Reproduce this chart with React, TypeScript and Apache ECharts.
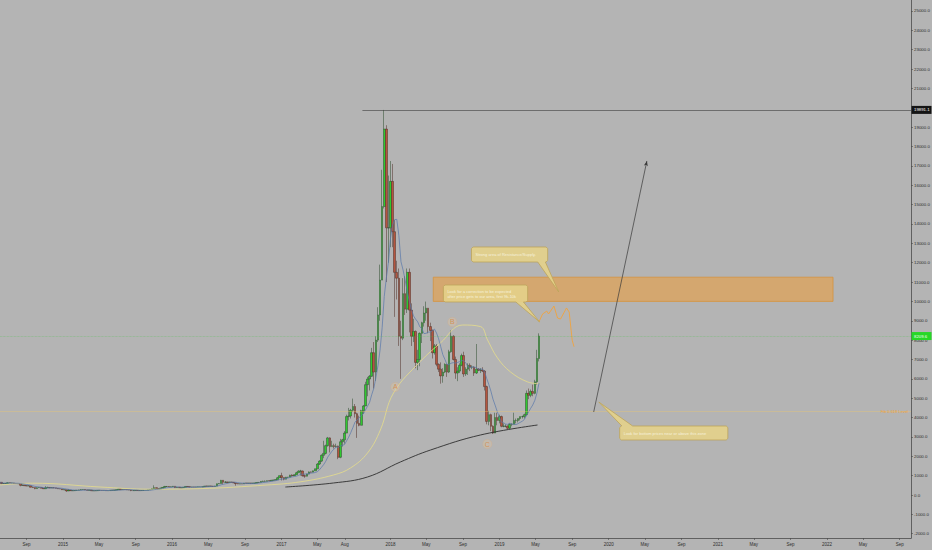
import React, { useEffect, useRef } from "react";
import * as echarts from "echarts";

const DAY = 86400000;
const WEEK = 7 * DAY;
const t = (s: string) => Date.parse(s + "T00:00:00Z");

const FIRST_WEEK = "2014-06-02";
const AXIS_START = "2014-06-04";
const AXIS_END = "2022-10-09";
const PRICE_MIN = -2221;
const PRICE_MAX = 25568;

// weekly candles: [open, close, low, high]
const candles2014 = [
  [630, 655, 620, 680], [655, 595, 560, 665], [595, 595, 585, 620], [595, 600, 565, 610],
  [600, 635, 600, 660], [635, 620, 615, 640], [620, 620, 610, 630], [620, 595, 590, 625],
  [595, 590, 575, 600], [590, 585, 580, 600], [585, 500, 450, 590], [500, 510, 470, 530],
  [510, 480, 475, 515], [480, 475, 460, 490], [475, 475, 465, 490], [475, 400, 395, 480],
  [400, 385, 375, 440], [385, 330, 300, 390], [330, 380, 320, 400], [380, 390, 370, 410],
  [390, 355, 345, 390], [355, 325, 320, 360], [325, 370, 320, 460], [370, 390, 360, 430],
  [390, 375, 345, 395], [375, 375, 365, 385], [375, 370, 360, 385], [370, 345, 340, 375],
  [345, 320, 310, 350], [320, 315, 310, 335], [315, 270, 265, 320],
];
const candles2015 = [
  [270, 270, 260, 300], [270, 210, 165, 275], [210, 255, 205, 310], [255, 225, 215, 260],
  [225, 225, 210, 245], [225, 235, 215, 245], [235, 245, 235, 250], [245, 260, 235, 270],
  [260, 275, 255, 300], [275, 285, 270, 295], [285, 260, 255, 290], [260, 250, 235, 265],
  [250, 255, 240, 260], [255, 220, 215, 260], [220, 225, 215, 230], [225, 225, 215, 235],
  [225, 240, 220, 245], [240, 240, 235, 245], [240, 235, 230, 245], [235, 240, 230, 245],
  [240, 225, 225, 240], [225, 230, 220, 235], [230, 245, 225, 245], [245, 245, 240, 255],
  [245, 255, 240, 260], [255, 270, 250, 275], [270, 310, 265, 315], [310, 275, 270, 320],
  [275, 290, 270, 300], [290, 280, 275, 295], [280, 265, 260, 285], [265, 260, 255, 270],
  [260, 230, 200, 265], [230, 230, 220, 235], [230, 240, 225, 245], [240, 230, 225, 245],
  [230, 230, 225, 235], [230, 235, 225, 240], [235, 240, 235, 245], [240, 245, 240, 250],
  [245, 265, 245, 270], [265, 285, 265, 290], [285, 325, 280, 335], [325, 380, 320, 500],
  [380, 330, 310, 390], [330, 325, 315, 340], [325, 360, 315, 370], [360, 390, 355, 400],
  [390, 435, 385, 470], [435, 440, 430, 465], [440, 420, 415, 455], [420, 430, 415, 440],
];
const candles2016 = [
  [430, 450, 420, 465], [450, 380, 360, 455], [380, 400, 375, 425], [400, 370, 365, 405],
  [370, 375, 365, 385], [375, 400, 370, 405], [400, 440, 395, 445], [440, 430, 400, 445],
  [430, 410, 400, 440], [410, 415, 400, 420], [415, 410, 405, 420], [410, 415, 405, 420],
  [415, 420, 410, 425], [420, 420, 415, 425], [420, 430, 420, 435], [430, 460, 430, 465],
  [460, 450, 440, 470], [450, 460, 440, 465], [460, 455, 450, 465], [455, 440, 435, 460],
  [440, 460, 435, 475], [460, 580, 455, 590], [580, 590, 565, 610], [590, 760, 590, 780],
  [760, 660, 560, 770], [660, 670, 620, 710], [670, 650, 610, 680], [650, 665, 645, 680],
  [665, 655, 650, 675], [655, 625, 620, 665], [625, 590, 480, 630], [590, 570, 565, 600],
  [570, 580, 565, 585], [580, 575, 570, 585], [575, 610, 570, 615], [610, 605, 600, 630],
  [605, 610, 600, 615], [610, 605, 590, 610], [605, 610, 600, 615], [610, 615, 605, 620],
  [615, 640, 610, 645], [640, 650, 630, 655], [650, 700, 645, 720], [700, 705, 690, 740],
  [705, 705, 690, 750], [705, 740, 700, 745], [740, 730, 720, 745], [730, 765, 725, 770],
  [765, 770, 755, 775], [770, 790, 765, 800], [790, 890, 790, 935], [890, 1000, 890, 1000],
];
const candles2017 = [
  [1000, 900, 750, 1150], [900, 820, 760, 910], [820, 920, 810, 935], [920, 920, 880, 930],
  [920, 1020, 915, 1045], [1020, 1000, 940, 1070], [1000, 1050, 990, 1060], [1050, 1150, 1050, 1200],
  [1150, 1230, 1150, 1280], [1230, 1240, 1000, 1300], [1240, 1000, 950, 1260], [1000, 970, 890, 1060],
  [970, 1080, 960, 1100], [1080, 1190, 1070, 1215], [1190, 1180, 1160, 1210], [1180, 1250, 1170, 1260],
  [1250, 1350, 1240, 1360], [1350, 1600, 1350, 1650], [1600, 1750, 1550, 1800], [1750, 2050, 1700, 2100],
  [2050, 2150, 1900, 2800], [2150, 2550, 2100, 2600], [2550, 2950, 2500, 3000], [2950, 2500, 2200, 2980],
  [2500, 2550, 2500, 2800], [2550, 2500, 2400, 2650], [2500, 2520, 2450, 2650], [2520, 1950, 1850, 2550],
  [1950, 2750, 1900, 2900], [2750, 2850, 2500, 2900], [2850, 3200, 2650, 3300], [3200, 4050, 3200, 4150],
  [4050, 4080, 3850, 4500], [4080, 4380, 3950, 4450], [4380, 4570, 4300, 4980], [4570, 4200, 4000, 4700],
  [4200, 3700, 2950, 4250], [3700, 3600, 3550, 4100], [3600, 4350, 3600, 4400], [4350, 4600, 4200, 4650],
  [4600, 5700, 4600, 5850], [5700, 5990, 5100, 6100], [5990, 6130, 5400, 6200], [6130, 7350, 6100, 7600],
  [7350, 6350, 5500, 7900], [6350, 8000, 5900, 8200], [8000, 9300, 7900, 9700], [9300, 11100, 9000, 11900],
  [11100, 14900, 11100, 16800], [14900, 18900, 14800, 19891], [18900, 13800, 11000, 19100], [13800, 13800, 12000, 16500],
];
const candles2018 = [
  [13800, 16200, 12800, 17250], [16200, 13600, 12800, 17100], [13600, 11500, 9200, 14200], [11500, 11200, 10100, 12100],
  [11200, 8200, 7700, 11700], [8200, 8100, 6000, 9000], [8100, 10400, 8000, 11200], [10400, 9600, 9300, 11300],
  [9600, 11500, 9400, 11700], [11500, 9550, 8400, 11700], [9550, 8200, 7700, 9900], [8200, 8450, 7900, 9100],
  [8450, 6850, 6550, 8500], [6850, 7000, 6450, 7500], [7000, 8350, 6650, 8400], [8350, 8900, 7850, 8950],
  [8900, 9400, 8700, 9750], [9400, 9650, 9000, 9990], [9650, 8700, 8350, 9650], [8700, 8500, 7950, 8900],
  [8500, 7350, 7050, 8550], [7350, 7700, 7250, 7800], [7700, 6750, 6650, 7800], [6750, 6500, 6350, 6800],
  [6500, 6150, 5750, 6850], [6150, 6350, 5800, 6550], [6350, 6750, 6300, 6800], [6750, 6350, 6100, 6750],
  [6350, 7400, 6300, 7500], [7400, 8200, 7350, 8500], [8200, 7000, 6950, 8250], [7000, 6300, 6000, 7150],
  [6300, 6400, 5880, 6600], [6400, 6700, 6300, 6800], [6700, 7200, 6650, 7300], [7200, 6250, 6100, 7400],
  [6250, 6500, 6150, 6600], [6500, 6700, 6200, 6800], [6700, 6600, 6400, 6800], [6600, 6600, 6500, 6700],
  [6600, 6300, 6150, 6650], [6300, 6500, 6250, 7800], [6500, 6450, 6400, 6550], [6450, 6450, 6300, 6550],
  [6450, 6400, 6350, 6600], [6400, 5600, 5400, 6450], [5600, 3800, 3650, 5650], [3800, 4150, 3600, 4350],
  [4150, 3550, 3300, 4200], [3550, 3200, 3150, 3600], [3200, 4000, 3200, 4250], [4000, 3850, 3600, 4250],
  [3850, 4050, 3700, 4150],
];
const candles2019 = [
  [4050, 3550, 3500, 4100], [3550, 3550, 3500, 3700], [3550, 3550, 3500, 3650], [3550, 3450, 3400, 3600],
  [3450, 3650, 3400, 3700], [3650, 3650, 3550, 3700], [3650, 3850, 3650, 4250], [3850, 3850, 3700, 3950],
  [3850, 3950, 3750, 3950], [3950, 4050, 3850, 4050], [4050, 4050, 3950, 4100], [4050, 4150, 3950, 4200],
  [4150, 5250, 4100, 5400], [5250, 5150, 4950, 5500], [5150, 5350, 5050, 5450], [5350, 5250, 5100, 5700],
  [5250, 5850, 5200, 5950], [5850, 7050, 5700, 7500], [7050, 8210, 6900, 8350],
];

// 50-period average line: [date, price]
const yellowLine: [string, number][] = [
  ["2014-06-04", 517], ["2014-09-22", 610], ["2015-05-05", 413], ["2015-10-19", 300],
  ["2016-04-04", 330], ["2016-11-14", 517], ["2017-03-05", 680], ["2017-06-24", 1033],
  ["2017-08-20", 1395], ["2017-10-16", 2169], ["2017-11-28", 3357], ["2018-01-11", 5269],
  ["2018-04-11", 6900], ["2018-06-17", 7850], ["2018-08-30", 8780], ["2018-10-29", 8700],
  ["2018-11-22", 8000], ["2018-12-25", 7080], ["2019-02-07", 6350], ["2019-04-05", 5840],
  ["2019-05-13", 5750],
];
// 200-period average line
const blackLine: [string, number][] = [
  ["2017-01-14", 413], ["2017-06-24", 620], ["2017-10-16", 930], ["2018-02-03", 1705],
  ["2018-05-15", 2324], ["2018-10-29", 3100], ["2019-05-08", 3616],
];
// hand drawn projection
const projection: [string, number][] = [
  ["2019-05-13", 8950], ["2019-05-25", 9350], ["2019-06-08", 9500], ["2019-06-14", 9350],
  ["2019-07-02", 9760], ["2019-07-14", 9140], ["2019-07-24", 9090], ["2019-08-13", 9660],
  ["2019-08-22", 9450], ["2019-09-01", 8000], ["2019-09-07", 7660],
];
const arrowFrom: [string, number] = ["2019-11-12", 4287];
const arrowTo: [string, number] = ["2020-05-08", 17252];
const athLevel = 19891.1;
const athStart = "2017-09-29";
const lastPrice = 8209.6;
const supportLevel = 4330;
const zoneDates = ["2018-05-24", "2022-01-21"];
const zonePrices = [11250, 10000];

const waveLetters = ["A", "B", "C"];
const wavePoints: [string, number][] = [["2018-01-17", 5579], ["2018-07-27", 8936], ["2018-11-21", 2634]];

// callouts: box left date, top price, right date, bottom price, tip date, tip price
const callouts: [string, number, string, number, string, number][] = [
  ["2018-09-29", 12810, "2019-06-11", 12035, "2019-07-18", 10486],
  ["2018-06-27", 10847, "2019-04-05", 9969, "2019-05-15", 8936],
  ["2020-02-07", 3564, "2021-02-03", 2841, "2019-11-29", 4804],
];
const calloutTexts = [
  ["Strong area of Resistance/Supply."],
  ["Look for a correction to be expected", "after price gets to our area, first 9k-10k"],
  ["Look for bottom prices near or above this zone"],
];
const calloutTails = [[0.87, 0.97], [0.86, 0.95], [0.02, 0.12]];

const xTickDates = [
  "2014-09-01", "2015-01-01", "2015-05-01", "2015-09-01", "2016-01-01", "2016-05-01", "2016-09-01",
  "2017-01-01", "2017-05-01", "2017-08-01", "2018-01-01", "2018-05-01", "2018-09-01", "2019-01-01",
  "2019-05-01", "2019-09-01", "2020-01-01", "2020-05-01", "2020-09-01", "2021-01-01", "2021-05-01",
  "2021-09-01", "2022-01-01", "2022-05-01", "2022-09-01",
];
const xTickLabels = [
  "Sep", "2015", "May", "Sep", "2016", "May", "Sep", "2017", "May", "Aug", "2018", "May", "Sep", "2019",
  "May", "Sep", "2020", "May", "Sep", "2021", "May", "Sep", "2022", "May", "Sep",
];
const yTickValues = [
  -2000, -1000, 0, 1000, 2000, 3000, 4000, 5000, 6000, 7000, 8000, 9000, 10000, 11000, 12000,
  13000, 14000, 15000, 16000, 17000, 18000, 19000, 21000, 22000, 23000, 24000, 25000,
];

const FONT = "Liberation Sans";

export default function App() {
  const ref = useRef<HTMLDivElement>(null);
  useEffect(() => {
    if (!ref.current) return;
    const chart = echarts.init(ref.current, undefined, { renderer: "svg" });
    const candles = [...candles2014, ...candles2015, ...candles2016, ...candles2017, ...candles2018, ...candles2019];
    const t0 = t(FIRST_WEEK);
    const rows = candles.map((c, i) => [t0 + i * WEEK, c[0], c[1], c[2], c[3]]);
    const closes = candles.map((c) => c[1]);
    const ma8 = closes.map((_, i) => {
      const from = Math.max(0, i - 7);
      const win = closes.slice(from, i + 1);
      return [t0 + i * WEEK, win.reduce((a, b) => a + b, 0) / win.length];
    });
    const xMax = t(AXIS_END);
    const tagValues = [athLevel, lastPrice, supportLevel];
    const tagStyles = [
      { bg: "#141414", fg: "#ffffff", text: athLevel.toFixed(1) },
      { bg: "#27d827", fg: "#effff0", text: lastPrice.toFixed(1) },
      { bg: "", fg: "#eea23a", text: "Fib 0.618 Level" },
    ];
    const xTickNums = xTickDates.map(t);

    chart.setOption({
      animation: false,
      backgroundColor: "#b4b4b4",
      textStyle: { fontFamily: FONT },
      grid: { left: 0, right: 21, top: 0, bottom: 12, outerBoundsMode: "none" },
      xAxis: {
        type: "value",
        min: t(AXIS_START),
        max: xMax,
        scale: true,
        splitLine: { show: false },
        axisLine: { show: true, onZero: false, lineStyle: { color: "#4a4a4a", width: 0.8 } },
        axisTick: { show: true, length: 2, lineStyle: { color: "#4a4a4a", width: 0.6 }, customValues: xTickNums },
        axisLabel: {
          show: true,
          customValues: xTickNums,
          formatter: (v: number) => {
            let best = 0;
            let bd = Infinity;
            xTickNums.forEach((n, k) => {
              const d = Math.abs(n - v);
              if (d < bd) { bd = d; best = k; }
            });
            return xTickLabels[best];
          },
          fontSize: 4.5,
          color: "#2e2e2e",
          margin: 4,
          fontFamily: FONT,
        },
      },
      yAxis: {
        type: "value",
        position: "right",
        min: PRICE_MIN,
        max: PRICE_MAX,
        splitLine: { show: false },
        axisLine: { show: true, onZero: false, lineStyle: { color: "#4a4a4a", width: 0.8 } },
        axisTick: { show: true, length: 2, lineStyle: { color: "#4a4a4a", width: 0.6 }, customValues: yTickValues },
        axisLabel: {
          show: true,
          customValues: yTickValues,
          formatter: (v: number) => v.toFixed(1),
          fontSize: 4.4,
          color: "#2e2e2e",
          margin: 3,
          fontFamily: FONT,
        },
      },
      series: [
        {
          name: "zone",
          type: "line",
          data: [],
          silent: true,
          markArea: {
            silent: true,
            itemStyle: { color: "rgba(232,160,70,0.62)", borderColor: "rgba(215,145,55,0.9)", borderWidth: 0.8 },
            data: [[{ coord: [t(zoneDates[0]), zonePrices[0]] }, { coord: [t(zoneDates[1]), zonePrices[1]] }]],
          },
          markLine: {
            silent: true,
            symbol: ["none", "none"],
            label: { show: false },
            data: [
              { yAxis: lastPrice, lineStyle: { color: "rgba(60,200,60,0.45)", width: 0.7, type: "dotted" } },
              { yAxis: supportLevel, lineStyle: { color: "rgba(236,200,110,0.55)", width: 0.7, type: "solid" } },
              [
                { coord: [t(athStart), athLevel], lineStyle: { color: "#3c3c3c", width: 0.6, type: "solid" } },
                { coord: [xMax, athLevel] },
              ],
            ],
          },
        },
        {
          name: "MA200",
          type: "line",
          data: blackLine.map(([d, v]) => [t(d), v]),
          smooth: 0.4,
          symbol: "none",
          lineStyle: { color: "#2e2e2e", width: 0.9 },
          silent: true,
        },
        {
          name: "MA50",
          type: "line",
          data: yellowLine.map(([d, v]) => [t(d), v]),
          smooth: 0.4,
          symbol: "none",
          lineStyle: { color: "#e6dd8a", width: 0.8 },
          silent: true,
        },
        {
          name: "BTCUSD",
          type: "candlestick",
          data: rows,
          encode: { x: 0, y: [1, 2, 3, 4] },
          barWidth: 2.1,
          silent: true,
          itemStyle: {
            color: "#2fc92f",
            color0: "#b5553e",
            borderColor: "#2a4a2a",
            borderColor0: "#4e2c25",
            borderWidth: 0.5,
          },
        },
        {
          name: "MA8",
          type: "line",
          data: ma8,
          symbol: "none",
          lineStyle: { color: "#5877aa", width: 0.7 },
          silent: true,
        },
        {
          name: "projection",
          type: "line",
          data: projection.map(([d, v]) => [t(d), v]),
          symbol: "none",
          lineStyle: { color: "#f0a33d", width: 0.9 },
          silent: true,
        },
        {
          name: "arrow",
          type: "line",
          data: [],
          silent: true,
          markLine: {
            silent: true,
            symbol: ["none", "arrow"],
            symbolSize: [3, 5],
            label: { show: false },
            lineStyle: { color: "#3a3a3a", width: 0.7, type: "solid" },
            data: [[{ coord: [t(arrowFrom[0]), arrowFrom[1]] }, { coord: [t(arrowTo[0]), arrowTo[1]] }]],
          },
        },
        {
          name: "waves",
          type: "scatter",
          data: wavePoints.map(([d, v]) => [t(d), v]),
          symbol: "circle",
          symbolSize: 9,
          silent: true,
          itemStyle: { color: "rgba(235,205,160,0.35)", borderColor: "rgba(230,170,110,0.55)", borderWidth: 0.5 },
          label: {
            show: true,
            position: "inside",
            formatter: (p: any) => waveLetters[p.dataIndex],
            color: "#d98743",
            fontSize: 7,
            fontFamily: FONT,
          },
          z: 4,
        },
        {
          name: "callouts",
          type: "custom",
          clip: false,
          silent: true,
          z: 5,
          data: callouts.map((c) => [t(c[0]), c[1], t(c[2]), c[3], t(c[4]), c[5]]),
          renderItem: (params: any, api: any) => {
            const i = params.dataIndex;
            const tl = api.coord([api.value(0), api.value(1)]);
            const br = api.coord([api.value(2), api.value(3)]);
            const tip = api.coord([api.value(4), api.value(5)]);
            const x0 = tl[0], y0 = tl[1], x1 = br[0], y1 = br[1];
            const w = x1 - x0;
            const c = 1.6;
            const [f0, f1] = calloutTails[i];
            const below = tip[1] > y1;
            const pts: number[][] = [];
            pts.push([x0 + c, y0]);
            if (!below) pts.push([x0 + w * f0, y0], tip, [x0 + w * f1, y0]);
            pts.push([x1 - c, y0], [x1, y0 + c], [x1, y1 - c], [x1 - c, y1]);
            if (below) pts.push([x0 + w * f1, y1], tip, [x0 + w * f0, y1]);
            pts.push([x0 + c, y1], [x0, y1 - c], [x0, y0 + c]);
            const lines = calloutTexts[i];
            const mid = (y0 + y1) / 2;
            const lh = 5;
            return {
              type: "group",
              children: [
                {
                  type: "polygon",
                  shape: { points: pts },
                  style: { fill: "rgba(228,210,138,0.9)", stroke: "#bca45a", lineWidth: 0.8 },
                },
                ...lines.map((ln, k) => ({
                  type: "text",
                  x: x0 + 4,
                  y: mid - ((lines.length - 1) * lh) / 2 + k * lh,
                  style: {
                    text: ln,
                    fill: "#f6f1dc",
                    fontSize: 4,
                    fontFamily: FONT,
                    align: "left",
                    verticalAlign: "middle",
                  },
                })),
              ],
            };
          },
        },
        {
          name: "priceTags",
          type: "custom",
          clip: false,
          silent: true,
          z: 6,
          data: tagValues.map((v) => [xMax, v]),
          renderItem: (params: any, api: any) => {
            const i = params.dataIndex;
            const p = api.coord([api.value(0), api.value(1)]);
            const s = tagStyles[i];
            if (!s.bg) {
              return {
                type: "text",
                x: p[0] - 3,
                y: p[1],
                style: { text: s.text, fill: s.fg, fontSize: 4, fontFamily: FONT, align: "right", verticalAlign: "middle" },
              };
            }
            return {
              type: "group",
              children: [
                { type: "rect", shape: { x: p[0] + 0.5, y: p[1] - 4, width: 20, height: 8 }, style: { fill: s.bg } },
                {
                  type: "text",
                  x: p[0] + 3,
                  y: p[1],
                  style: { text: s.text, fill: s.fg, fontSize: 4.3, fontFamily: FONT, align: "left", verticalAlign: "middle" },
                },
              ],
            };
          },
        },
      ],
    });
    return () => chart.dispose();
  }, []);
  return <div ref={ref} style={{ position: "absolute", left: 0, top: 0, width: 932, height: 550 }} />;
}
